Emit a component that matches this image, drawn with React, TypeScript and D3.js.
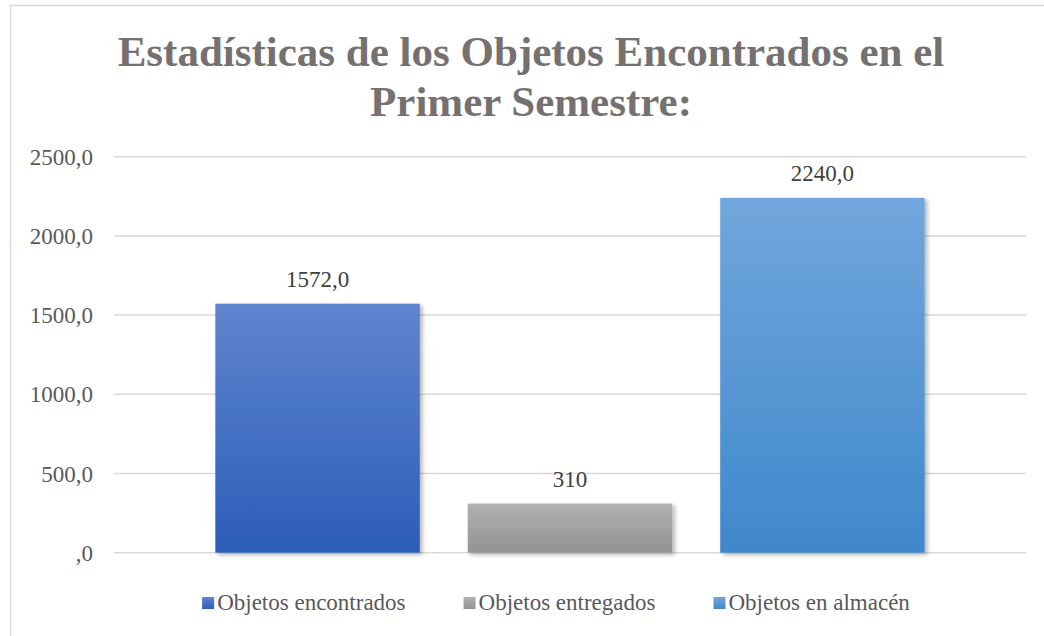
import React, { useEffect, useRef } from 'react';
import * as d3 from 'd3';

// data
const category = ['Primer Semestre'];
const seriesNames = ['Objetos encontrados', 'Objetos entregados', 'Objetos en almacén'];
const seriesValues = [1572, 310, 2240];
const valueLabels = ['1572,0', '310', '2240,0'];
const yTicks = [0, 500, 1000, 1500, 2000, 2500];
const yTickLabels = [',0', '500,0', '1000,0', '1500,0', '2000,0', '2500,0'];
const titleLines = ['Estadísticas de los Objetos Encontrados en el', 'Primer Semestre:'];

const gradients = [
	{ top: '#5f85cf', bottom: '#2c5db8' },
	{ top: '#b1b1b1', bottom: '#939393' },
	{ top: '#71a7dc', bottom: '#3f88cb' },
];

const FONT = '"Liberation Serif", "Times New Roman", Times, "DejaVu Serif", serif';

const App: React.FC = () => {
	const svgRef = useRef<SVGSVGElement>(null);

	useEffect(() => {
		if (!svgRef.current) return;

		const width = 1044;
		const height = 636;
		const plot = { left: 114, right: 1026, top: 156.7, bottom: 552.7 };

		const svg = d3.select(svgRef.current)
			.attr('width', width)
			.attr('height', height)
			.style('font-family', FONT);

		svg.selectAll('*').remove();

		const defs = svg.append('defs');
		gradients.forEach((g, i) => {
			const lg = defs.append('linearGradient')
				.attr('id', `grad${i}`)
				.attr('x1', 0).attr('y1', 0).attr('x2', 0).attr('y2', 1);
			lg.append('stop').attr('offset', '0%').attr('stop-color', g.top);
			lg.append('stop').attr('offset', '100%').attr('stop-color', g.bottom);
		});
		defs.append('filter')
			.attr('id', 'shadow')
			.attr('x', '-10%').attr('y', '-10%').attr('width', '130%').attr('height', '130%')
			.append('feDropShadow')
			.attr('dx', 2.5).attr('dy', 2).attr('stdDeviation', 2)
			.attr('flood-color', '#000').attr('flood-opacity', 0.3);

		// chart area background + border
		svg.append('rect')
			.attr('x', 10.5).attr('y', 5.5)
			.attr('width', width + 20).attr('height', height + 20)
			.attr('fill', '#fff')
			.attr('stroke', '#d9d9d9')
			.attr('stroke-width', 1.5);

		// title
		svg.append('text')
			.attr('x', 531)
			.attr('text-anchor', 'middle')
			.style('font-family', FONT)
			.attr('font-weight', 'bold')
			.attr('font-size', 43)
			.attr('fill', '#767171')
			.selectAll('tspan')
			.data(titleLines)
			.join('tspan')
			.attr('x', 531)
			.attr('y', (_, i) => 66 + i * 50)
			.text(d => d);

		const y = d3.scaleLinear()
			.domain([0, 2500])
			.range([plot.bottom, plot.top]);

		const x0 = d3.scaleBand<string>()
			.domain(category)
			.range([plot.left, plot.right])
			.paddingInner(0.125)
			.paddingOuter(0.125);

		const x1 = d3.scaleBand<string>()
			.domain(seriesNames)
			.range([0, x0.bandwidth()])
			.paddingInner(0.19);

		// gridlines
		svg.append('g')
			.selectAll('line')
			.data(yTicks)
			.join('line')
			.attr('x1', plot.left)
			.attr('x2', plot.right)
			.attr('y1', d => y(d))
			.attr('y2', d => y(d))
			.attr('stroke', '#d9d9d9')
			.attr('stroke-width', 1.5);

		// y tick labels
		svg.append('g')
			.selectAll('text')
			.data(yTicks)
			.join('text')
			.attr('x', 93)
			.attr('y', d => y(d))
			.attr('dy', '0.35em')
			.attr('text-anchor', 'end')
			.style('font-family', FONT)
			.attr('font-size', 23)
			.attr('fill', '#595959')
			.text((_, i) => yTickLabels[i]);

		const groupX = x0(category[0]) ?? 0;

		// bars
		svg.append('g')
			.selectAll('rect')
			.data(seriesValues)
			.join('rect')
			.attr('x', (_, i) => groupX + (x1(seriesNames[i]) ?? 0))
			.attr('y', d => y(d))
			.attr('width', x1.bandwidth())
			.attr('height', d => y(0) - y(d))
			.attr('fill', (_, i) => `url(#grad${i})`)
			.attr('filter', 'url(#shadow)');

		// data labels
		svg.append('g')
			.selectAll('text')
			.data(seriesValues)
			.join('text')
			.attr('x', (_, i) => groupX + (x1(seriesNames[i]) ?? 0) + x1.bandwidth() / 2)
			.attr('y', d => y(d) - 17)
			.attr('text-anchor', 'middle')
			.style('font-family', FONT)
			.attr('font-size', 23)
			.attr('fill', '#404040')
			.text((_, i) => valueLabels[i]);

		// legend
		const legend = svg.append('g');
		const items = legend.selectAll('g')
			.data(seriesNames)
			.join('g');
		items.append('rect')
			.attr('width', 12)
			.attr('height', 12)
			.attr('y', 597)
			.attr('fill', (_, i) => `url(#grad${i})`);
		items.append('text')
			.attr('x', 15)
			.attr('y', 610)
			.style('font-family', FONT)
			.attr('font-size', 23)
			.attr('fill', '#595959')
			.text(d => d);

		const gap = 58;
		const widths: number[] = [];
		items.each(function () {
			const t = d3.select(this).select('text').node() as SVGTextElement;
			widths.push(15 + t.getComputedTextLength());
		});
		const total = d3.sum(widths) + gap * (widths.length - 1);
		let cursor = 556 - total / 2;
		items.attr('transform', (_, i) => {
			const tx = cursor;
			cursor += widths[i] + gap;
			return `translate(${tx},0)`;
		});
	}, []);

	return <svg ref={svgRef} style={{ position: 'absolute', left: 0, top: 0 }}></svg>;
};

export default App;
